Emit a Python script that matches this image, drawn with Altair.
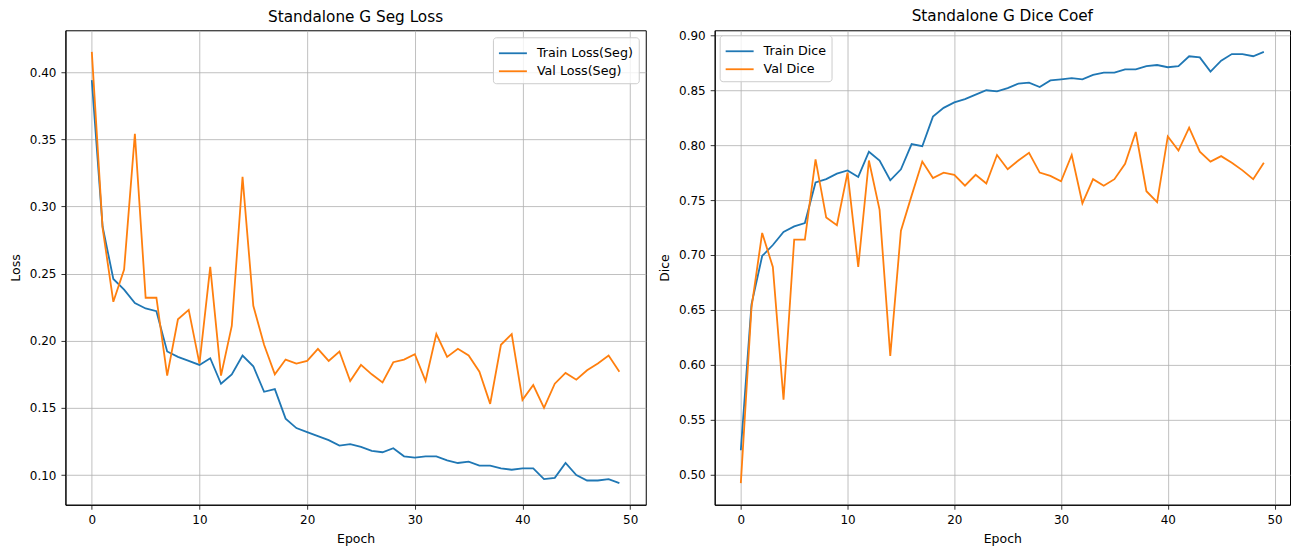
import altair as alt
import pandas as pd

epochs = list(range(50))

train_loss = [0.394, 0.285, 0.246, 0.238, 0.228, 0.224, 0.222, 0.192, 0.188, 0.185,
              0.182, 0.187, 0.168, 0.175, 0.189, 0.181, 0.162, 0.164, 0.142, 0.135,
              0.132, 0.129, 0.126, 0.122, 0.123, 0.121, 0.118, 0.117, 0.120, 0.114,
              0.113, 0.114, 0.114, 0.111, 0.109, 0.110, 0.107, 0.107, 0.105, 0.104,
              0.105, 0.105, 0.097, 0.098, 0.109, 0.100, 0.096, 0.096, 0.097, 0.094]
val_loss = [0.415, 0.284, 0.229, 0.253, 0.354, 0.232, 0.232, 0.174, 0.216, 0.223,
            0.183, 0.255, 0.174, 0.211, 0.322, 0.226, 0.197, 0.175, 0.186, 0.183,
            0.185, 0.194, 0.185, 0.192, 0.170, 0.182, 0.175, 0.169, 0.184, 0.186,
            0.190, 0.170, 0.205, 0.188, 0.194, 0.189, 0.177, 0.153, 0.197, 0.205,
            0.156, 0.167, 0.150, 0.168, 0.176, 0.171, 0.178, 0.183, 0.189, 0.177]
train_dice = [0.522, 0.655, 0.699, 0.709, 0.721, 0.726, 0.729, 0.766, 0.769, 0.774,
              0.777, 0.771, 0.794, 0.786, 0.768, 0.778, 0.801, 0.799, 0.826, 0.834,
              0.839, 0.842, 0.846, 0.850, 0.849, 0.852, 0.856, 0.857, 0.853, 0.859,
              0.860, 0.861, 0.860, 0.864, 0.866, 0.866, 0.869, 0.869, 0.872, 0.873,
              0.871, 0.872, 0.881, 0.880, 0.867, 0.877, 0.883, 0.883, 0.881, 0.885]
val_dice = [0.492, 0.652, 0.720, 0.689, 0.568, 0.714, 0.714, 0.787, 0.734, 0.727,
            0.775, 0.689, 0.786, 0.741, 0.608, 0.722, 0.754, 0.785, 0.770, 0.775,
            0.773, 0.763, 0.773, 0.765, 0.791, 0.778, 0.786, 0.793, 0.775, 0.772,
            0.767, 0.791, 0.747, 0.769, 0.763, 0.769, 0.783, 0.812, 0.758, 0.748,
            0.808, 0.795, 0.816, 0.794, 0.785, 0.790, 0.784, 0.777, 0.769, 0.784]

loss_labels = ["Train Loss(Seg)", "Val Loss(Seg)"]
dice_labels = ["Train Dice", "Val Dice"]
colors = ["#1f77b4", "#ff7f0e"]
x_ticks = [0, 10, 20, 30, 40, 50]
loss_ticks = [0.10, 0.15, 0.20, 0.25, 0.30, 0.35, 0.40]
dice_ticks = [0.50, 0.55, 0.60, 0.65, 0.70, 0.75, 0.80, 0.85, 0.90]


def long_df(labels, a, b):
    rows = []
    for lab, vals in zip(labels, [a, b]):
        for e, v in zip(epochs, vals):
            rows.append({"epoch": e, "value": v, "series": lab})
    return pd.DataFrame(rows)


def margins(vals, m=0.05):
    lo, hi = min(vals), max(vals)
    r = hi - lo
    return [lo - m * r, hi + m * r]


xdom = margins(epochs)
H = 475


def panel(df, labels, title, ytitle, yticks, ydom, orient, offset, w):
    x = alt.X("epoch:Q", scale=alt.Scale(domain=xdom, nice=False, zero=False),
              axis=alt.Axis(values=x_ticks, format="d", title="Epoch"))
    y = alt.Y("value:Q", scale=alt.Scale(domain=ydom, nice=False, zero=False),
              axis=alt.Axis(values=yticks, format=".2f", title=ytitle))
    color = alt.Color("series:N", title=None, sort=labels,
                      scale=alt.Scale(domain=labels, range=colors),
                      legend=alt.Legend(orient=orient, offset=offset))
    return (alt.Chart(df).mark_line(strokeWidth=1.8)
            .encode(x=x, y=y, color=color, order="epoch:Q")
            .properties(width=w, height=H, title=title))


left = panel(long_df(loss_labels, train_loss, val_loss), loss_labels,
             "Standalone G Seg Loss", "Loss", loss_ticks,
             margins(train_loss + val_loss), "top-right", 7, 581)
right = panel(long_df(dice_labels, train_dice, val_dice), dice_labels,
              "Standalone G Dice Coef", "Dice", dice_ticks,
              margins(train_dice + val_dice), "top-left", 5, 576)

chart = (alt.hconcat(left, right, spacing=69, bounds="flush")
         .resolve_scale(color="independent")
         .resolve_legend(color="independent")
         .properties(padding={"left": 0.5, "top": 0, "right": 0, "bottom": 0})
         .configure(font="DejaVu Sans")
         .configure_view(stroke="#000000", strokeWidth=1)
         .configure_axis(gridColor="#b0b0b0", gridWidth=0.8, domainColor="#000000",
                         domainWidth=1, tickColor="#000000", tickSize=4.5, tickWidth=0.8,
                         labelColor="#000000", labelFontSize=12, titleFontSize=12.5,
                         titleFontWeight="normal", titleColor="#000000", labelPadding=5)
         .configure_axisX(labelPadding=5, titlePadding=7)
         .configure_axisY(titlePadding=6.6)
         .configure_title(fontSize=15.3, fontWeight="normal", offset=5, color="#000000")
         .configure_legend(fillColor="rgba(255,255,255,0.8)", strokeColor="#cccccc",
                           cornerRadius=3, padding=5, symbolType="M-1.4,0H1.4", symbolSize=400,
                           symbolOffset=4, symbolStrokeWidth=1.8, labelFontSize=12.7,
                           labelColor="#000000", labelOffset=13, rowPadding=0))

chart.save("out.html", embed_options={"renderer": "svg", "actions": False})
